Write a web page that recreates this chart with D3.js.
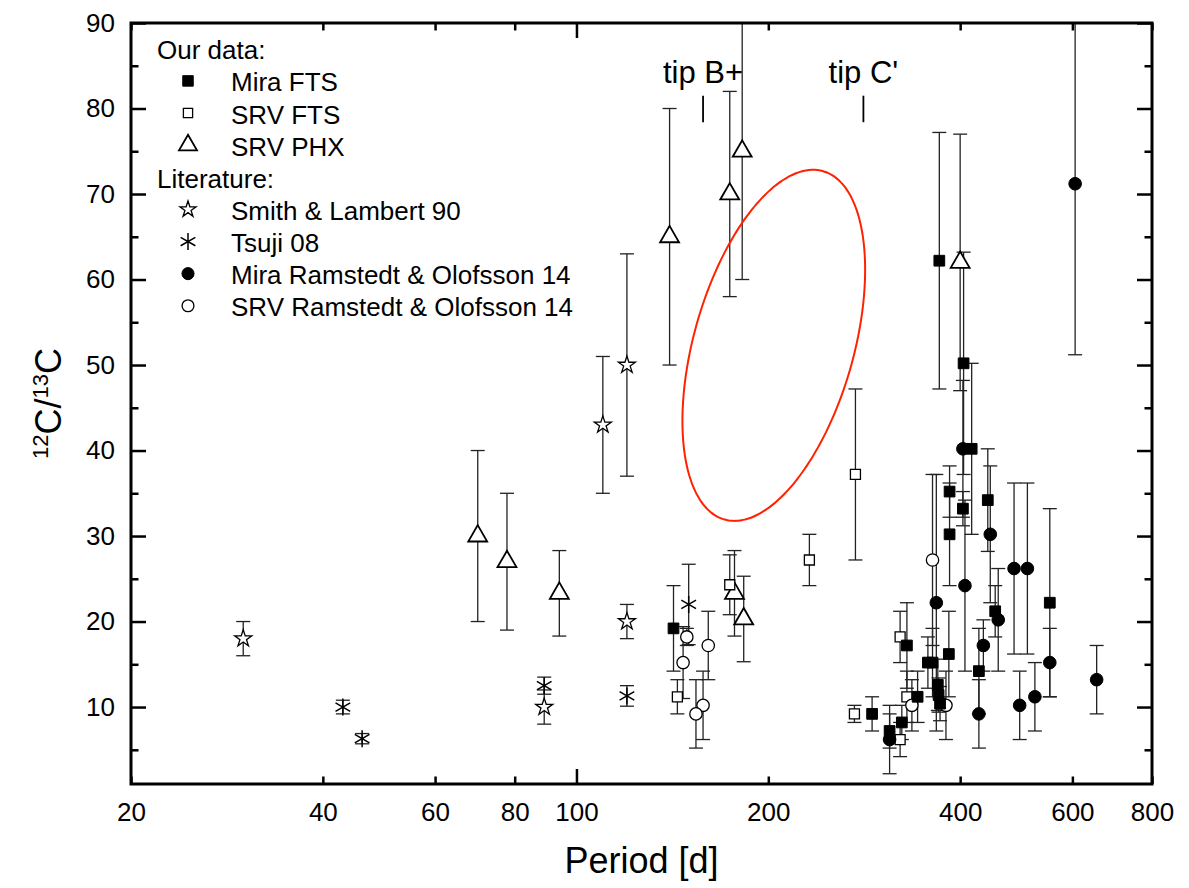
<!DOCTYPE html>
<html>
<head>
<meta charset="utf-8">
<script src="https://cdn.jsdelivr.net/npm/d3@7"></script>
<style>
  body { margin: 0; background: #fff; }
  svg text { font-family: "Liberation Sans", Arial, Helvetica, sans-serif; fill: #000; }
</style>
</head>
<body>
<div id="chart"></div>
<script>
// ---- data ----
const miraFtsPeriod = [142, 371, 405, 417, 385, 404, 385, 442, 454, 553, 384, 356, 362, 330, 343, 369, 370, 372, 324, 310, 291, 428];
const miraFtsRatio  = [19.2, 62.2, 50.2, 40.2, 35.2, 33.2, 30.2, 34.2, 21.2, 22.2, 16.2, 15.2, 15.2, 17.2, 11.2, 12.6, 11.4, 10.4, 8.2, 7.2, 9.2, 14.2];
const miraFtsErr    = [5, 15, 13, 10, 3, 2, 6, 6, 3, 11, 5, 3, 4, 5, 3, 3, 2, 2, 2, 2, 2, 5];

const srvFtsPeriod = [144, 174, 232, 274, 273, 322, 330, 322];
const srvFtsRatio  = [11.2, 24.3, 27.2, 37.2, 9.2, 18.2, 11.2, 6.2];
const srvFtsErr    = [2, 3.5, 3, 10, 1, 3, 3, 2];

const srvPhxPeriod = [70, 77.8, 94, 140, 174, 182, 177, 183, 400];
const srvPhxRatio  = [30, 27, 23.3, 65, 70, 75, 23.3, 20.3, 62];
const srvPhxErr    = [10, 8, 5, 15, 12, 15, 5, 5, 15];

const smithPeriod = [30, 89, 110, 120, 120];
const smithRatio  = [18, 10, 43, 50, 20];
const smithErr    = [2, 2, 8, 13, 2];

const tsujiPeriod = [43, 46.1, 89, 120, 150];
const tsujiRatio  = [10, 6.3, 12.5, 11.3, 22];
const tsujiErr    = [0.8, 0.6, 1, 1.2, 4.7];

const miraRoPeriod = [606, 404, 407, 446, 486, 510, 367, 459, 435, 553, 524, 496, 428, 655, 310];
const miraRoRatio  = [71.2, 40.2, 24.2, 30.2, 26.2, 26.2, 22.2, 20.2, 17.2, 15.2, 11.2, 10.2, 9.2, 13.2, 6.2];
const miraRoErr    = [20, 8, 10, 8, 10, 10, 15, 6, 3, 4, 4, 4, 4, 4, 4];

const srvRoPeriod = [149, 147, 161, 158, 154, 362, 336, 380];
const srvRoRatio  = [18.2, 15.2, 17.2, 10.2, 9.2, 27.2, 10.2, 10.2];
const srvRoErr    = [1, 4.2, 4, 4, 4, 10, 3, 4];

const tipLabels  = ["tip B+", "tip C'"];
const tipPeriods = [158, 282];
const tipTickRange = [78.4, 81.5];
const tipLabelRatio = 83;

// red ellipse: centre (period, ratio) and two semi-axes in (log10 period, ratio)
const ellipseCenter = [204, 52.3];
const ellipseAxisU = [0.0773, 20.37];
const ellipseAxisV = [-0.1207, 2.55];

const xLabelTicks = [20, 40, 60, 80, 100, 200, 400, 600, 800];
const xMinorTicks = [20, 40, 60, 80, 200, 400, 600, 800];
const xMajorTicks = [100];
const yMajorTicks = [10, 20, 30, 40, 50, 60, 70, 80, 90];
const yMinorTicks = [5, 15, 25, 35, 45, 55, 65, 75, 85];

// ---- layout ----
const width = 1189, height = 888;
const margin = { left: 131, right: 37, top: 23, bottom: 104 };
const x0 = margin.left, x1 = width - margin.right;
const y0 = height - margin.bottom, y1 = margin.top;

const x = d3.scaleLog().domain([20, 800]).range([x0, x1]);
const y = d3.scaleLinear().domain([1, 90]).range([y0, y1]);

const svg = d3.select("#chart").append("svg")
    .attr("width", width)
    .attr("height", height)
    .attr("viewBox", `0 0 ${width} ${height}`);

svg.append("clipPath").attr("id", "plot-clip")
  .append("rect")
    .attr("x", x0).attr("y", y1)
    .attr("width", x1 - x0).attr("height", y0 - y1);

// six-armed asterisk (vertical + two at 30 deg)
const asterisk = {
    draw(ctx, size) {
        const r = Math.sqrt(size) * 0.6;
        const t = r / 2, u = t * Math.sqrt(3);
        ctx.moveTo(0, r); ctx.lineTo(0, -r);
        ctx.moveTo(-u, -t); ctx.lineTo(u, t);
        ctx.moveTo(-u, t); ctx.lineTo(u, -t);
    }
};

const series = [
    { name: "SRV PHX", p: srvPhxPeriod, r: srvPhxRatio, e: srvPhxErr, type: d3.symbolTriangle, size: 155, fill: "#fff", sw: 1.8 },
    { name: "Smith & Lambert 90", p: smithPeriod, r: smithRatio, e: smithErr, type: d3.symbolStar, size: 90, fill: "#fff", sw: 1.3 },
    { name: "Tsuji 08", p: tsujiPeriod, r: tsujiRatio, e: tsujiErr, type: asterisk, size: 200, fill: "none", sw: 1.5 },
    { name: "SRV FTS", p: srvFtsPeriod, r: srvFtsRatio, e: srvFtsErr, type: d3.symbolSquare, size: 100, fill: "#fff", sw: 1.3 },
    { name: "SRV Ramstedt & Olofsson 14", p: srvRoPeriod, r: srvRoRatio, e: srvRoErr, type: d3.symbolCircle, size: 120, fill: "#fff", sw: 1.3 },
    { name: "Mira Ramstedt & Olofsson 14", p: miraRoPeriod, r: miraRoRatio, e: miraRoErr, type: d3.symbolCircle, size: 125, fill: "#000", sw: 1 },
    { name: "Mira FTS", p: miraFtsPeriod, r: miraFtsRatio, e: miraFtsErr, type: d3.symbolSquare, size: 115, fill: "#000", sw: 1 }
];

const plot = svg.append("g").attr("clip-path", "url(#plot-clip)");

// error bars first
const capHalf = 7;
series.forEach(s => {
    const pts = s.p.map((p, i) => ({ p, r: s.r[i], e: s.e[i] }));
    const g = plot.append("g").attr("stroke", "#222").attr("stroke-width", 1.3).attr("fill", "none");
    const bars = g.selectAll("g").data(pts).enter().append("g");
    bars.append("line")
        .attr("x1", d => x(d.p)).attr("x2", d => x(d.p))
        .attr("y1", d => y(d.r - d.e)).attr("y2", d => y(d.r + d.e));
    bars.append("line")
        .attr("x1", d => x(d.p) - capHalf).attr("x2", d => x(d.p) + capHalf)
        .attr("y1", d => y(d.r + d.e)).attr("y2", d => y(d.r + d.e));
    bars.append("line")
        .attr("x1", d => x(d.p) - capHalf).attr("x2", d => x(d.p) + capHalf)
        .attr("y1", d => y(d.r - d.e)).attr("y2", d => y(d.r - d.e));
});

// markers on top
series.forEach(s => {
    const pts = s.p.map((p, i) => ({ p, r: s.r[i] }));
    plot.append("g").selectAll("path").data(pts).enter().append("path")
        .attr("d", d3.symbol().type(s.type).size(s.size))
        .attr("transform", d => `translate(${x(d.p)},${y(d.r)})`)
        .attr("fill", s.fill)
        .attr("stroke", "#000")
        .attr("stroke-width", s.sw);
});

// red ellipse
const ellipsePts = d3.range(0, 360, 2).map(deg => {
    const t = deg * Math.PI / 180;
    const lp = Math.log10(ellipseCenter[0]) + ellipseAxisU[0] * Math.cos(t) + ellipseAxisV[0] * Math.sin(t);
    const r = ellipseCenter[1] + ellipseAxisU[1] * Math.cos(t) + ellipseAxisV[1] * Math.sin(t);
    return [Math.pow(10, lp), r];
});
plot.append("path")
    .attr("d", d3.line().x(d => x(d[0])).y(d => y(d[1])).curve(d3.curveCardinalClosed)(ellipsePts))
    .attr("fill", "none")
    .attr("stroke", "#ff2200")
    .attr("stroke-width", 2);

// tip annotations
tipPeriods.forEach((p, i) => {
    svg.append("line")
        .attr("x1", x(p)).attr("x2", x(p))
        .attr("y1", y(tipTickRange[0])).attr("y2", y(tipTickRange[1]))
        .attr("stroke", "#000").attr("stroke-width", 1.8);
    svg.append("text")
        .attr("x", x(p)).attr("y", y(tipLabelRatio))
        .attr("text-anchor", "middle")
        .attr("font-size", 31)
        .text(tipLabels[i]);
});

// ---- axes ----
function tickSet(axis, vals, len, transform) {
    svg.append("g").attr("transform", transform)
        .call(axis.tickValues(vals).tickSize(-len).tickFormat(""))
        .call(g => g.select(".domain").remove())
        .call(g => g.selectAll("line").attr("stroke", "#000").attr("stroke-width", 2.5));
}
tickSet(d3.axisBottom(x), xMinorTicks, 7.5, `translate(0,${y0})`);
tickSet(d3.axisBottom(x), xMajorTicks, 15, `translate(0,${y0})`);
tickSet(d3.axisTop(x), xMinorTicks, 7.5, `translate(0,${y1})`);
tickSet(d3.axisTop(x), xMajorTicks, 15, `translate(0,${y1})`);
tickSet(d3.axisLeft(y), yMinorTicks, 7.5, `translate(${x0},0)`);
tickSet(d3.axisLeft(y), yMajorTicks, 15, `translate(${x0},0)`);
tickSet(d3.axisRight(y), yMinorTicks, 7.5, `translate(${x1},0)`);
tickSet(d3.axisRight(y), yMajorTicks, 15, `translate(${x1},0)`);

svg.append("g").attr("transform", `translate(0,${y0})`)
    .call(d3.axisBottom(x).tickValues(xLabelTicks).tickFormat(d3.format("d")).tickSize(0).tickPadding(19))
    .call(g => g.select(".domain").remove())
    .attr("font-size", 26);

svg.append("g").attr("transform", `translate(${x0},0)`)
    .call(d3.axisLeft(y).tickValues(yMajorTicks).tickFormat(d3.format("d")).tickSize(0).tickPadding(16))
    .call(g => g.select(".domain").remove())
    .attr("font-size", 26);

svg.append("rect")
    .attr("x", x0).attr("y", y1)
    .attr("width", x1 - x0).attr("height", y0 - y1)
    .attr("fill", "none").attr("stroke", "#000").attr("stroke-width", 3);

// axis titles
svg.append("text")
    .attr("x", (x0 + x1) / 2).attr("y", 873)
    .attr("text-anchor", "middle")
    .attr("font-size", 36)
    .text("Period [d]");

const yTitle = svg.append("text")
    .attr("transform", `translate(61,${(y0 + y1) / 2}) rotate(-90)`)
    .attr("text-anchor", "middle")
    .attr("font-size", 36);
yTitle.append("tspan").attr("font-size", 22).attr("dy", -13).text("12");
yTitle.append("tspan").attr("dy", 13).text("C/");
yTitle.append("tspan").attr("font-size", 22).attr("dy", -13).text("13");
yTitle.append("tspan").attr("dy", 13).text("C");

// ---- legend ----
const legendRows = [
    { header: "Our data:" },
    { s: series[6] }, { s: series[3] }, { s: series[0] },
    { header: "Literature:" },
    { s: series[1] }, { s: series[2] }, { s: series[5] }, { s: series[4] }
];
const legendSymbolSize = { "Mira FTS": 110, "SRV FTS": 85, "SRV PHX": 140, "Smith & Lambert 90": 80, "Tsuji 08": 200, "Mira Ramstedt & Olofsson 14": 115, "SRV Ramstedt & Olofsson 14": 110 };
const legend = svg.append("g").attr("font-size", 26);
legendRows.forEach((row, i) => {
    const base = 59.3 + i * 32.12;
    if (row.header) {
        legend.append("text").attr("x", 157).attr("y", base).text(row.header);
    } else {
        legend.append("path")
            .attr("d", d3.symbol().type(row.s.type).size(legendSymbolSize[row.s.name]))
            .attr("transform", `translate(188,${base - 10.5})`)
            .attr("fill", row.s.fill)
            .attr("stroke", "#000")
            .attr("stroke-width", row.s.sw);
        legend.append("text").attr("x", 231).attr("y", base).text(row.s.name);
    }
});
</script>
</body>
</html>
